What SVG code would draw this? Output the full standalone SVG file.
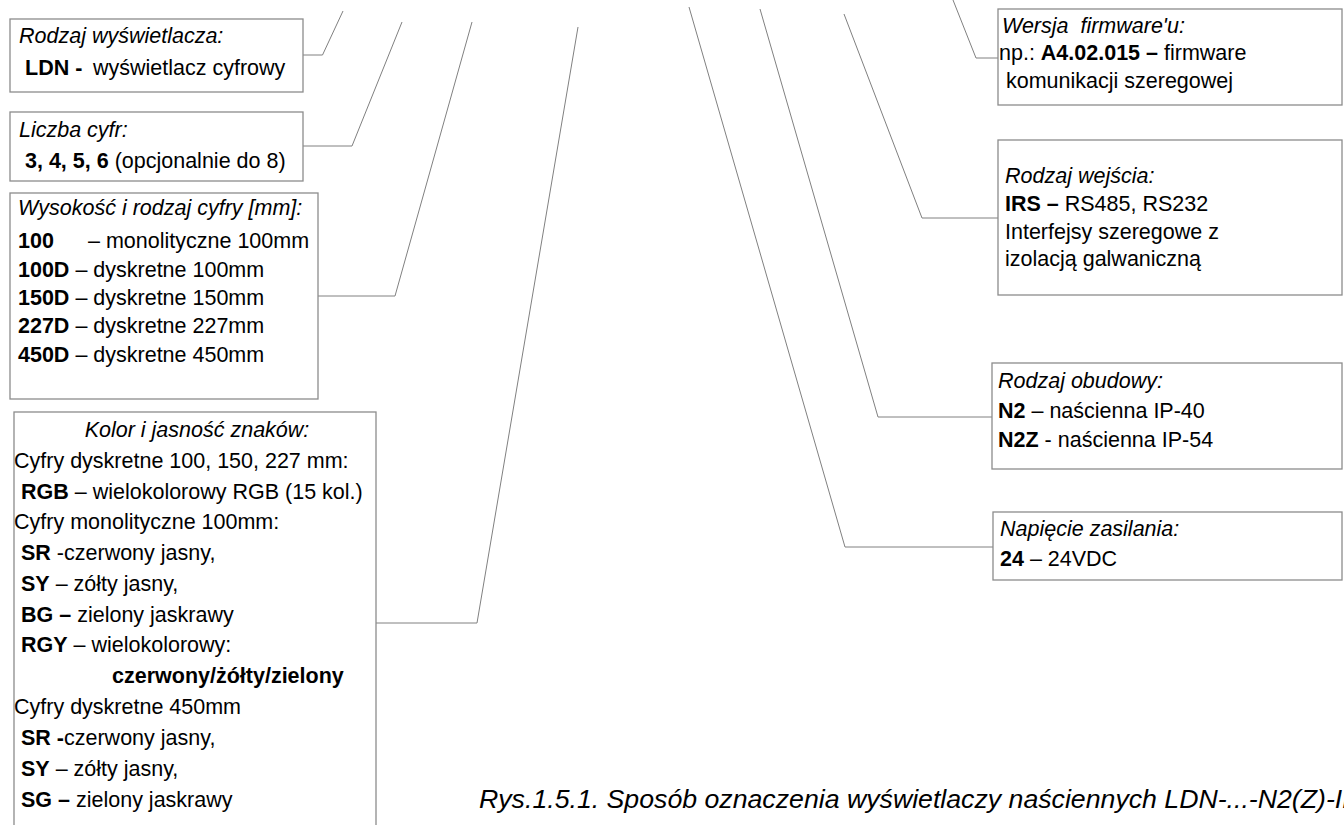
<svg xmlns="http://www.w3.org/2000/svg" width="1344" height="825" viewBox="0 0 1344 825">
<style>
text{font-family:"Liberation Sans",Arial,sans-serif;font-size:21.5px;fill:#000;white-space:pre}
.i{font-style:italic}
.b{font-weight:bold}
.box{fill:#fff;stroke:#8c8c8c;stroke-width:1.3}
.ln{fill:none;stroke:#808080;stroke-width:1}
.cap{font-size:26.7px;font-style:italic}
</style>
<rect width="1344" height="825" fill="#fff"/>
<g id="connectors">
<polyline class="ln" points="303,55 322.5,55 343,11"/>
<polyline class="ln" points="303,146 352,146 402,22"/>
<polyline class="ln" points="318,296 395,296 472,22"/>
<polyline class="ln" points="376,623 477,623 578,27"/>
<polyline class="ln" points="689,7 845,547 993,547"/>
<polyline class="ln" points="760,9 878,417 992,417"/>
<polyline class="ln" points="844,14 922,218 998,218"/>
<polyline class="ln" points="953,0 976,58 998,58"/>
</g>
<g id="n-rodzaj-wyswietlacza">
<rect class="box" x="10" y="19" width="293" height="73"/>
<text class="i" x="19" y="43">Rodzaj wyświetlacza:</text>
<text class="b" x="25" y="75">LDN -</text>
<text x="93" y="75">wyświetlacz cyfrowy</text>
</g>
<g id="n-liczba-cyfr">
<rect class="box" x="10" y="112" width="293" height="69"/>
<text class="i" x="19" y="137">Liczba cyfr:</text>
<text x="25" y="168"><tspan class="b">3, 4, 5, 6</tspan> (opcjonalnie do 8)</text>
</g>
<g id="n-wysokosc">
<rect class="box" x="10" y="193" width="308" height="206"/>
<text class="i" x="18" y="215">Wysokość i rodzaj cyfry [mm]:</text>
<text class="b" x="18" y="248">100</text>
<text x="88" y="248">– monolityczne 100mm</text>
<text x="18" y="276.5"><tspan class="b">100D</tspan> – dyskretne 100mm</text>
<text x="18" y="305"><tspan class="b">150D</tspan> – dyskretne 150mm</text>
<text x="18" y="333"><tspan class="b">227D</tspan> – dyskretne 227mm</text>
<text x="18" y="361.5"><tspan class="b">450D</tspan> – dyskretne 450mm</text>
</g>
<g id="n-kolor">
<rect class="box" x="14" y="412" width="362" height="430"/>
<text class="i" x="197" y="437" text-anchor="middle">Kolor i jasność znaków:</text>
<text x="14" y="468">Cyfry dyskretne 100, 150, 227 mm:</text>
<text x="21" y="498.5"><tspan class="b">RGB</tspan> – wielokolorowy RGB (15 kol.)</text>
<text x="14" y="529">Cyfry monolityczne 100mm:</text>
<text x="21" y="560"><tspan class="b">SR</tspan> -czerwony jasny,</text>
<text x="21" y="590.5"><tspan class="b">SY</tspan> – zółty jasny,</text>
<text x="21" y="621.5"><tspan class="b">BG –</tspan> zielony jaskrawy</text>
<text x="21" y="652"><tspan class="b">RGY</tspan> – wielokolorowy:</text>
<text class="b" x="112" y="683">czerwony/żółty/zielony</text>
<text x="14" y="714">Cyfry dyskretne 450mm</text>
<text x="21" y="745"><tspan class="b">SR -</tspan>czerwony jasny,</text>
<text x="21" y="776"><tspan class="b">SY</tspan> – zółty jasny,</text>
<text x="21" y="806.5"><tspan class="b">SG –</tspan> zielony jaskrawy</text>
</g>
<g id="n-wersja">
<rect class="box" x="998" y="9" width="344" height="96"/>
<text class="i" x="1002" y="33">Wersja  firmware'u:</text>
<text x="999" y="60">np.: <tspan class="b">A4.02.015 –</tspan> firmware</text>
<text x="1006" y="88">komunikacji szeregowej</text>
</g>
<g id="n-wejscie">
<rect class="box" x="998" y="140" width="344" height="155"/>
<text class="i" x="1005" y="183">Rodzaj wejścia:</text>
<text x="1005" y="211"><tspan class="b">IRS –</tspan> RS485, RS232</text>
<text x="1005" y="239">Interfejsy szeregowe z</text>
<text x="1005" y="266">izolacją galwaniczną</text>
</g>
<g id="n-obudowa">
<rect class="box" x="992" y="363" width="350" height="106"/>
<text class="i" x="998" y="388">Rodzaj obudowy:</text>
<text x="998" y="418"><tspan class="b">N2</tspan> – naścienna IP-40</text>
<text x="998" y="447"><tspan class="b">N2Z</tspan> - naścienna IP-54</text>
</g>
<g id="n-napiecie">
<rect class="box" x="993" y="512" width="349" height="68"/>
<text class="i" x="1000" y="536">Napięcie zasilania:</text>
<text x="1000" y="566"><tspan class="b">24</tspan> – 24VDC</text>
</g>
<text class="cap" x="479" y="808">Rys.1.5.1. Sposób oznaczenia wyświetlaczy naściennych LDN-...-N2(Z)-IR</text>
</svg>
